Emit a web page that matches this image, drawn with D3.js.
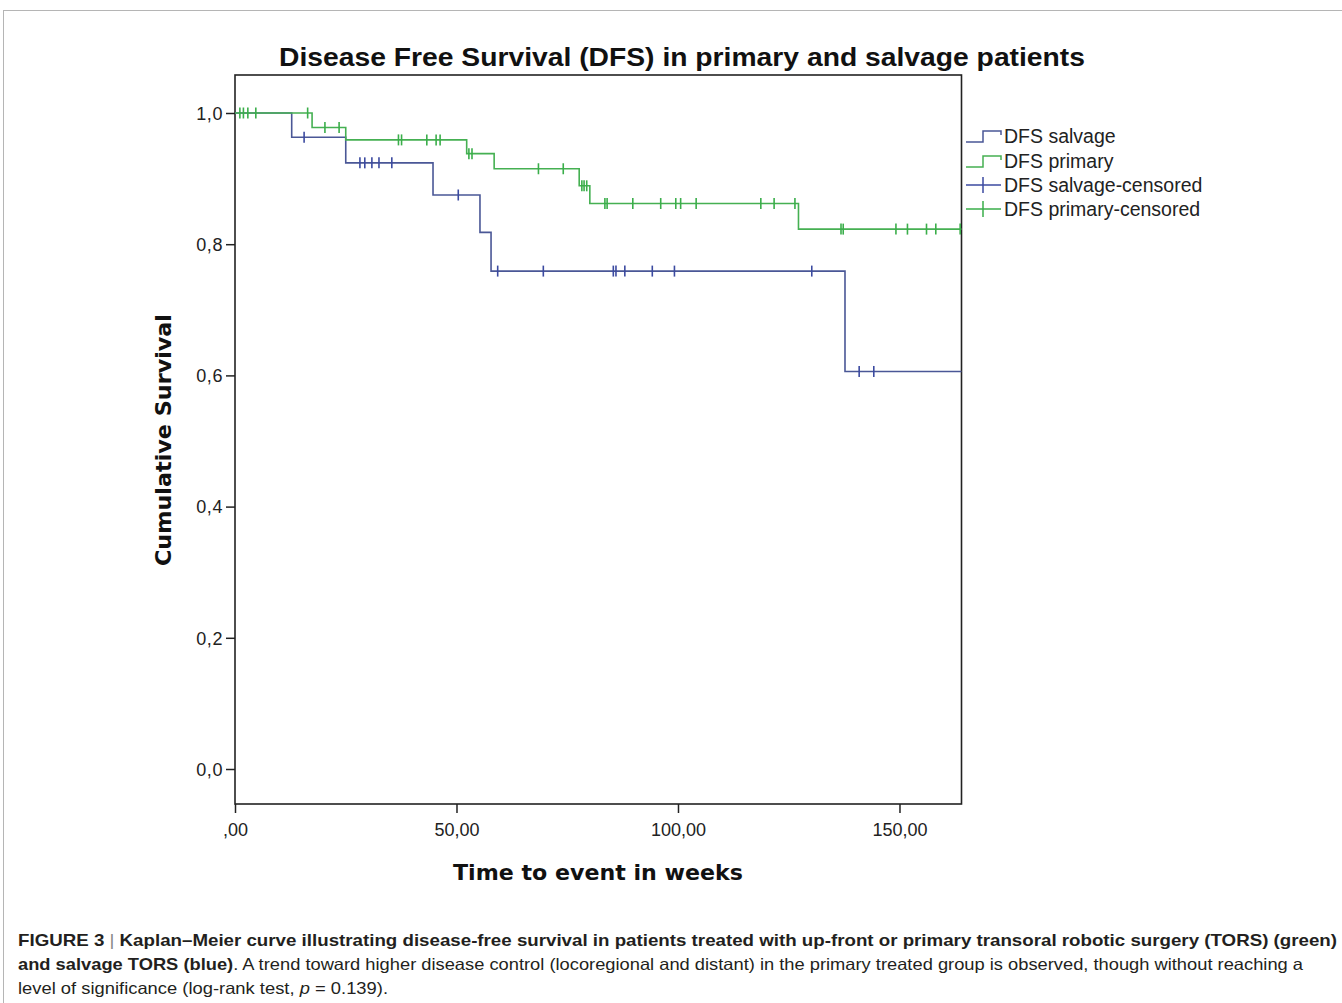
<!DOCTYPE html>
<html>
<head>
<meta charset="utf-8">
<script src="https://cdn.jsdelivr.net/npm/d3@7/dist/d3.min.js"></script>
<style>
  html, body { margin: 0; padding: 0; background: #fff; }
  svg { display: block; }
</style>
</head>
<body>
<svg id="chart" width="1342" height="1003"></svg>
<script>
// ---------- DATA ----------
const salvageEventTimes = [12.8, 25.0, 44.7, 55.3, 57.8, 137.7];
const salvageEventSurv  = [0.963, 0.924, 0.875, 0.818, 0.759, 0.606];
const salvageCensorTimes = [15.6, 28.2, 29.3, 30.9, 32.5, 35.4, 50.4, 59.3, 69.6, 85.4, 86.0, 88.0, 94.2, 99.2, 130.2, 140.9, 144.2];

const primaryEventTimes = [17.4, 25.0, 52.3, 58.5, 77.7, 80.1, 127.2];
const primaryEventSurv  = [0.978, 0.959, 0.938, 0.915, 0.889, 0.862, 0.823];
const primaryCensorTimes = [1.1, 1.9, 2.9, 4.7, 16.4, 20.3, 23.5, 36.9, 37.6, 43.3, 45.4, 46.3, 52.8, 53.5, 68.5, 74.1, 78.3, 78.8, 79.4, 83.5, 84.0, 89.8, 96.1, 99.5, 100.6, 104.1, 118.7, 121.7, 126.4, 136.8, 137.3, 149.2, 151.8, 156.1, 158.2, 163.7];

const followUpEnd = 164;

const yTickValues = [0, 0.2, 0.4, 0.6, 0.8, 1.0];
const yTickLabels = ["0,0", "0,2", "0,4", "0,6", "0,8", "1,0"];
const xTickValues = [0, 50, 100, 150];
const xTickLabels = [",00", "50,00", "100,00", "150,00"];

const legendLabels = ["DFS salvage", "DFS primary", "DFS salvage-censored", "DFS primary-censored"];

const chartTitle = "Disease Free Survival (DFS) in primary and salvage patients";
const yTitle = "Cumulative Survival";
const xTitle = "Time to event in weeks";

// ---------- STYLE ----------
const blue = "#4a5796";
const blueCensor = "#3b4aa0";
const green = "#45b052";
const greenCensor = "#3aae4a";
const ink = "#222";

const svg = d3.select("#chart");

// outer figure frame
svg.append("rect")
  .attr("x", 3.5).attr("y", 10.5)
  .attr("width", 1360).attr("height", 1010)
  .attr("fill", "none").attr("stroke", "#b5b5b5").attr("stroke-width", 1);

// scales
const x = d3.scaleLinear().domain([0, followUpEnd]).range([235, 961.5]);
const y = d3.scaleLinear().domain([0, 1]).range([769, 113]);

const frameTop = 75, frameBottom = 804;

// plot frame
svg.append("rect")
  .attr("x", x(0)).attr("y", frameTop)
  .attr("width", x(followUpEnd) - x(0)).attr("height", frameBottom - frameTop)
  .attr("fill", "none").attr("stroke", ink).attr("stroke-width", 1.6);

// y axis
const yAxis = d3.axisLeft(y)
  .tickValues(yTickValues)
  .tickFormat(d => yTickLabels[yTickValues.indexOf(d)])
  .tickSize(9).tickPadding(3);
const gy = svg.append("g").attr("transform", `translate(${x(0)},0)`).call(yAxis);
gy.select(".domain").remove();
gy.selectAll(".tick line").attr("stroke", ink).attr("stroke-width", 1.5);
gy.selectAll(".tick text")
  .attr("font-family", "Liberation Sans, Arial, sans-serif")
  .attr("font-size", 18).attr("fill", ink).attr("letter-spacing", 0.6)
  .attr("dy", "0.35em");

// x axis
const xAxis = d3.axisBottom(x)
  .tickValues(xTickValues)
  .tickFormat(d => xTickLabels[xTickValues.indexOf(d)])
  .tickSize(9).tickPadding(10);
const gx = svg.append("g").attr("transform", `translate(0,${frameBottom})`).call(xAxis);
gx.select(".domain").remove();
gx.selectAll(".tick line").attr("stroke", ink).attr("stroke-width", 1.5);
gx.selectAll(".tick text")
  .attr("font-family", "Liberation Sans, Arial, sans-serif")
  .attr("font-size", 18).attr("fill", ink);

// step curve helper
function stepPoints(times, surv) {
  const pts = [[0, 1]];
  times.forEach((t, i) => pts.push([t, surv[i]]));
  pts.push([followUpEnd, surv[surv.length - 1]]);
  return pts;
}
function survAt(times, surv, t) {
  let s = 1;
  for (let i = 0; i < times.length; i++) if (times[i] <= t) s = surv[i];
  return s;
}
const line = d3.line().x(d => x(d[0])).y(d => y(d[1])).curve(d3.curveStepAfter);

function drawGroup(times, surv, censors, col, ccol) {
  svg.append("path")
    .datum(stepPoints(times, surv))
    .attr("d", line)
    .attr("fill", "none").attr("stroke", col).attr("stroke-width", 1.6);
  svg.append("g").selectAll("line")
    .data(censors).join("line")
    .attr("x1", d => x(d)).attr("x2", d => x(d))
    .attr("y1", d => y(survAt(times, surv, d)) - 5.5)
    .attr("y2", d => y(survAt(times, surv, d)) + 5.5)
    .attr("stroke", ccol).attr("stroke-width", 1.6);
}
drawGroup(salvageEventTimes, salvageEventSurv, salvageCensorTimes, blue, blueCensor);
drawGroup(primaryEventTimes, primaryEventSurv, primaryCensorTimes, green, greenCensor);

// legend
const legendRows = [136, 161, 185, 209];
const legendCols = [blue, green, blueCensor, greenCensor];
const lg = svg.append("g");
legendLabels.forEach((lab, i) => {
  const cy = legendRows[i];
  if (i < 2) {
    lg.append("path")
      .attr("d", `M966,${cy + 6}H983V${cy - 5}H1001V${cy - 1}`)
      .attr("fill", "none").attr("stroke", legendCols[i]).attr("stroke-width", 1.5);
  } else {
    lg.append("line").attr("x1", 966).attr("x2", 1001).attr("y1", cy).attr("y2", cy)
      .attr("stroke", legendCols[i]).attr("stroke-width", 1.5);
    lg.append("line").attr("x1", 983).attr("x2", 983).attr("y1", cy - 8).attr("y2", cy + 8)
      .attr("stroke", legendCols[i]).attr("stroke-width", 1.5);
  }
  lg.append("text")
    .attr("x", 1004).attr("y", cy).attr("dy", "0.35em")
    .attr("font-family", "Liberation Sans, Arial, sans-serif")
    .attr("font-size", 19.5).attr("fill", ink)
    .text(lab);
});

// titles
svg.append("text")
  .attr("x", 682).attr("y", 66)
  .attr("text-anchor", "middle")
  .attr("font-family", "Liberation Sans, Arial, sans-serif")
  .attr("font-weight", "bold").attr("font-size", 26).attr("fill", "#111")
  .attr("textLength", 806).attr("lengthAdjust", "spacingAndGlyphs")
  .text(chartTitle);

svg.append("text")
  .attr("transform", "translate(171,440) rotate(-90)")
  .attr("text-anchor", "middle")
  .attr("font-family", "DejaVu Sans, Verdana, sans-serif")
  .attr("font-weight", "bold").attr("font-size", 21).attr("fill", "#111")
  .attr("textLength", 252).attr("lengthAdjust", "spacingAndGlyphs")
  .text(yTitle);

svg.append("text")
  .attr("x", 598).attr("y", 880)
  .attr("text-anchor", "middle")
  .attr("font-family", "DejaVu Sans, Verdana, sans-serif")
  .attr("font-weight", "bold").attr("font-size", 22).attr("fill", "#111")
  .attr("textLength", 290).attr("lengthAdjust", "spacingAndGlyphs")
  .text(xTitle);

// caption
const cap = svg.append("g")
  .attr("font-family", "Liberation Sans, Arial, sans-serif")
  .attr("font-size", 16.5).attr("fill", "#231f20");
const l1 = cap.append("text").attr("x", 18).attr("y", 946)
  .attr("textLength", 1319).attr("lengthAdjust", "spacingAndGlyphs");
l1.append("tspan").attr("font-weight", "bold").text("FIGURE 3 ");
l1.append("tspan").attr("fill", "#888").text("| ");
l1.append("tspan").attr("font-weight", "bold")
  .text("Kaplan–Meier curve illustrating disease-free survival in patients treated with up-front or primary transoral robotic surgery (TORS) (green)");
const l2 = cap.append("text").attr("x", 18).attr("y", 970)
  .attr("textLength", 1285).attr("lengthAdjust", "spacingAndGlyphs");
l2.append("tspan").attr("font-weight", "bold").text("and salvage TORS (blue)");
l2.append("tspan").text(". A trend toward higher disease control (locoregional and distant) in the primary treated group is observed, though without reaching a");
const l3 = cap.append("text").attr("x", 18).attr("y", 994)
  .attr("textLength", 370).attr("lengthAdjust", "spacingAndGlyphs");
l3.append("tspan").text("level of significance (log-rank test, ");
l3.append("tspan").attr("font-style", "italic").text("p");
l3.append("tspan").text(" = 0.139).");
</script>
</body>
</html>
